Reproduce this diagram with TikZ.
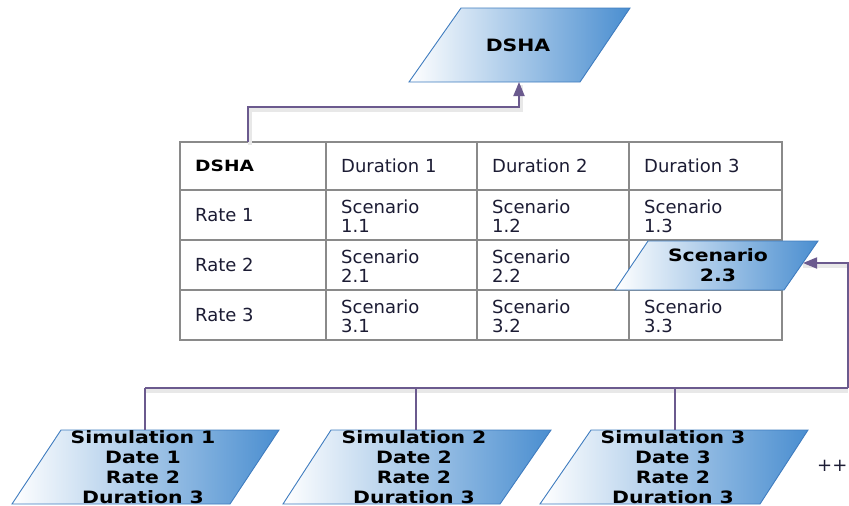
\documentclass[tikz,border=0pt]{standalone}
\usepackage{fontspec}
\setmainfont{DejaVu Sans}
\newfontfamily\shapefont[FakeStretch=1.2]{DejaVu Sans Bold}
\usetikzlibrary{arrows.meta}
\definecolor{connc}{HTML}{6B5A8E}
\definecolor{shapeblue}{HTML}{4A8ED0}
\definecolor{shapeedge}{HTML}{3F7CBF}
\definecolor{gridgray}{HTML}{8A8A8A}
\definecolor{celltext}{HTML}{1C1C34}
\tikzset{
  para/.style={draw=shapeedge, line width=0.9pt, left color=white, right color=shapeblue},
  conn/.style={draw=connc, line width=1.8pt},
  connshadow/.style={draw=black!9, line width=3.5pt},
  tip/.style={-{Triangle[length=14pt,width=11pt]}},
  gridline/.style={draw=gridgray, line width=2.2pt},
  cell/.style={anchor=west, inner sep=0pt, align=left, text=celltext, font=\fontsize{18}{19}\selectfont},
  boldcell/.style={anchor=west, inner sep=0pt, text=black, font=\shapefont\fontsize{15.5}{19}\selectfont},
  shapetext/.style={inner sep=0pt, align=center, text=black, font=\shapefont\fontsize{17}{19.5}\selectfont},
  simtext/.style={shapetext, font=\shapefont\fontsize{17}{20}\selectfont},
  plaintext/.style={inner sep=0pt, anchor=west, text=celltext, font=\fontsize{18}{19}\selectfont}
}
\begin{document}
\begin{tikzpicture}[x=1pt,y=-1pt]
\useasboundingbox (0,0) rectangle (849,506);

% ---- table grid ----
\draw[gridline] (180,142) rectangle (782,340);
\foreach \xx in {326,477,629} \draw[gridline] (\xx,142) -- (\xx,340);
\foreach \yy in {190,240,290} \draw[gridline] (180,\yy) -- (782,\yy);

% ---- table texts ----
\node[boldcell] (c00) at (195,166) {DSHA};
\node[cell] (c01) at (341,166) {Duration 1};
\node[cell] (c02) at (492,166) {Duration 2};
\node[cell] (c03) at (644,166) {Duration 3};
\node[cell] (c10) at (195,215) {Rate 1};
\node[cell] (c11) at (341,216) {Scenario\\1.1};
\node[cell] (c12) at (492,216) {Scenario\\1.2};
\node[cell] (c13) at (644,216) {Scenario\\1.3};
\node[cell] (c20) at (195,265) {Rate 2};
\node[cell] (c21) at (341,266) {Scenario\\2.1};
\node[cell] (c22) at (492,266) {Scenario\\2.2};
\node[cell] (c30) at (195,315) {Rate 3};
\node[cell] (c31) at (341,316) {Scenario\\3.1};
\node[cell] (c32) at (492,316) {Scenario\\3.2};
\node[cell] (c33) at (644,316) {Scenario\\3.3};

% ---- coordinates ----
\coordinate (tbltop) at (248,142);
\coordinate (j1) at (519,107);
\coordinate (dshab) at (519,82);
\coordinate (busL) at (145,388);
\coordinate (busR) at (848,388);
\coordinate (sc23r) at (803,263);
\coordinate (s1t) at (145,430);
\coordinate (s2t) at (416,430);
\coordinate (s3t) at (675,430);
\coordinate (s1b) at (145,388);
\coordinate (s2b) at (416,388);
\coordinate (s3b) at (675,388);

% ---- connector shadows ----
\draw[connshadow] ([shift={(2,3)}]tbltop) |- ([shift={(2,3)}]j1) -- ([shift={(2,3)}]dshab);
\draw[connshadow] ([shift={(0,3)}]busL) -- ([shift={(0,3)}]busR);
\draw[connshadow] ([shift={(0,3)}]sc23r) -- ([shift={(0,3)}]busR|-sc23r);

% ---- shapes ----
\shade[para] (461,8) -- (630,8) -- (580,82) -- (409,82) -- cycle;
\node[shapetext] (dsha) at (518,45) {DSHA};

\shade[para] (648,241) -- (818,241) -- (784,290) -- (615,290) -- cycle;
\node[shapetext] (sc23) at (718,265) {Scenario\\2.3};

\shade[para] (61,430) -- (279,430) -- (230,504) -- (12,504) -- cycle;
\node[simtext] (sim1) at (143,467) {Simulation 1\\Date 1\\Rate 2\\Duration 3};
\shade[para] (331,430) -- (551,430) -- (500,504) -- (283,504) -- cycle;
\node[simtext] (sim2) at (414,467) {Simulation 2\\Date 2\\Rate 2\\Duration 3};
\shade[para] (591,430) -- (808,430) -- (760,504) -- (540,504) -- cycle;
\node[simtext] (sim3) at (673,467) {Simulation 3\\Date 3\\Rate 2\\Duration 3};

\node[plaintext] (more) at (817,466) {++};

% ---- connectors ----
\draw[conn, tip] (tbltop) |- (j1) -- (dshab);
\draw[conn] (busL) -- (busR);
\draw[conn] (s1b) -- (s1t);
\draw[conn] (s2b) -- (s2t);
\draw[conn] (s3b) -- (s3t);
\draw[conn, tip] (busR) |- (sc23r);
\end{tikzpicture}
\end{document}
